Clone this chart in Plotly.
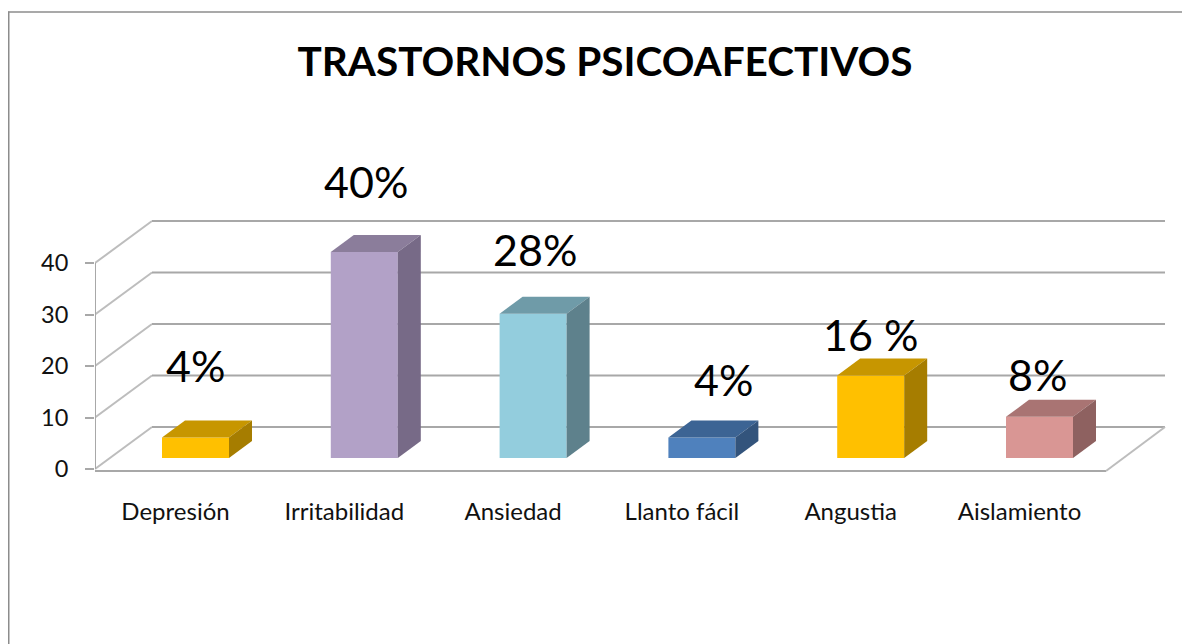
# -*- coding: utf-8 -*-
import plotly.graph_objects as go

categories = ['Depresión', 'Irritabilidad', 'Ansiedad', 'Llanto fácil', 'Angustia', 'Aislamiento']
values = [4, 40, 28, 4, 16, 8]
labels = ['4%', '40%', '28%', '4%', '16 %', '8%']
y_ticks = [0, 10, 20, 30, 40]

front_colors = ['#FFC000', '#B2A1C7', '#93CDDD', '#4F81BD', '#FFC000', '#D99694']
top_colors = ['#C79600', '#8B7D9B', '#6F9BA8', '#3C6494', '#C79600', '#A97473']
side_colors = ['#A67D00', '#776A87', '#5E818C', '#33547C', '#A67D00', '#8E6160']

# label offsets from the top of each bar, in pixels
label_dx = [0, 2, 2, 22, 0, -2]
label_dy = [72, 71, 64, 58, 41, 42]

# the page puts an 8px margin round the figure, so everything here is page px - 8
PAGE = 8
FIG_W, FIG_H = 1190 - PAGE, 644 - PAGE
LEFT, RIGHT, TOP, BOTTOM = 95 - PAGE, 1166 - PAGE, 200 - PAGE, 480 - PAGE
STEP = 168.8            # px between categories
FIRST = 195.5 - PAGE    # px of first bar centre
UNIT = 5.15             # px per value unit
ZERO = 469 - PAGE       # px of front zero

x_range = [(LEFT - FIRST) / STEP, (RIGHT - FIRST) / STEP]
y_range = [(ZERO - BOTTOM) / UNIT, (ZERO - TOP) / UNIT]

bar_w = 67 / STEP
bar_base = 11 / UNIT     # bars stand a little behind the front edge
depth_x = 23 / STEP
depth_y = 17 / UNIT
wall_x = 57 / STEP       # depth of the walls
wall_y = 42 / UNIT
x_front_l = x_range[0]
x_back_l = x_front_l + wall_x
x_front_r = (1106 - PAGE - FIRST) / STEP
x_back_r = (1165 - PAGE - FIRST) / STEP
floor_y = -2 / UNIT

grid_color = '#A8A8A8'
shapes = []
for t in y_ticks:
    # diagonal on the side wall and line on the back wall
    shapes.append(dict(type='line', layer='below', x0=x_front_l, y0=t, x1=x_back_l, y1=t + wall_y,
                       line=dict(color='#BDBDBD', width=2)))
    shapes.append(dict(type='line', layer='below', x0=x_back_l, y0=t + wall_y, x1=x_back_r, y1=t + wall_y,
                       line=dict(color=grid_color, width=2.2)))
# floor and axis line
shapes.append(dict(type='line', layer='below', x0=x_front_l, y0=floor_y, x1=x_front_r, y1=floor_y,
                   line=dict(color=grid_color, width=2.2)))
shapes.append(dict(type='line', layer='below', x0=x_front_r, y0=floor_y, x1=x_back_r, y1=wall_y,
                   line=dict(color='#BDBDBD', width=2)))
shapes.append(dict(type='line', layer='below', x0=x_front_l, y0=0, x1=x_front_l, y1=y_ticks[-1],
                   line=dict(color=grid_color, width=2)))

# outer frame, only left and top edges show
def px_x(p):
    return (p - LEFT) / (RIGHT - LEFT)

def px_y(p):
    return (BOTTOM - p) / (BOTTOM - TOP)

frame = '#8C8C8C'
shapes.append(dict(type='line', xref='paper', yref='paper', x0=px_x(0.5), y0=px_y(3.5), x1=px_x(0.5), y1=px_y(FIG_H),
                   line=dict(color=frame, width=2)))
shapes.append(dict(type='line', xref='paper', yref='paper', x0=px_x(0), y0=px_y(4), x1=px_x(FIG_W), y1=px_y(4),
                   line=dict(color=frame, width=1.6)))

fig = go.Figure()

idx = list(range(len(categories)))
fig.add_trace(go.Bar(
    x=idx, y=values, base=bar_base, width=bar_w,
    marker=dict(color=front_colors, line=dict(width=0)),
    showlegend=False, hoverinfo='skip',
))

for i, v in zip(idx, values):
    l = i - bar_w / 2
    r = i + bar_w / 2
    top = bar_base + v
    fig.add_trace(go.Scatter(
        x=[l, r, r + depth_x, l + depth_x, l], y=[top, top, top + depth_y, top + depth_y, top],
        mode='lines', fill='toself', fillcolor=top_colors[i], line=dict(width=0),
        showlegend=False, hoverinfo='skip',
    ))
    fig.add_trace(go.Scatter(
        x=[r, r + depth_x, r + depth_x, r, r],
        y=[bar_base, bar_base + depth_y, top + depth_y, top, bar_base],
        mode='lines', fill='toself', fillcolor=side_colors[i], line=dict(width=0),
        showlegend=False, hoverinfo='skip',
    ))

annotations = []
for i, v in zip(idx, values):
    annotations.append(dict(
        x=i, y=bar_base + v, text=labels[i], showarrow=False,
        xshift=label_dx[i], yshift=label_dy[i],
        font=dict(family='Lato', size=43, color='#000000'),
    ))

fig.update_layout(
    width=FIG_W, height=FIG_H,
    margin=dict(l=LEFT, r=FIG_W - RIGHT, t=TOP, b=FIG_H - BOTTOM, pad=0),
    paper_bgcolor='#FFFFFF', plot_bgcolor='#FFFFFF',
    title=dict(text='<b>TRASTORNOS PSICOAFECTIVOS</b>', x=(605 - PAGE) / FIG_W, xanchor='center',
               y=1 - (62 - PAGE) / FIG_H, yanchor='middle',
               font=dict(family='Lato', size=40.5, color='#000000')),
    xaxis=dict(range=x_range, tickmode='array', tickvals=[i - 20 / STEP for i in idx], ticktext=categories,
               showgrid=False, zeroline=False, showline=False, ticks='', ticklabelstandoff=15,
               tickfont=dict(family='Lato', size=24, color='#111111')),
    yaxis=dict(range=y_range, tickmode='array', tickvals=y_ticks, showgrid=False, zeroline=False,
               showline=False, ticks='outside', ticklen=9, tickwidth=2, tickcolor=grid_color,
               ticklabelstandoff=12,
               tickfont=dict(family='Lato', size=23.5, color='#111111')),
    shapes=shapes,
    annotations=annotations,
)

fig.write_html("out.html")
